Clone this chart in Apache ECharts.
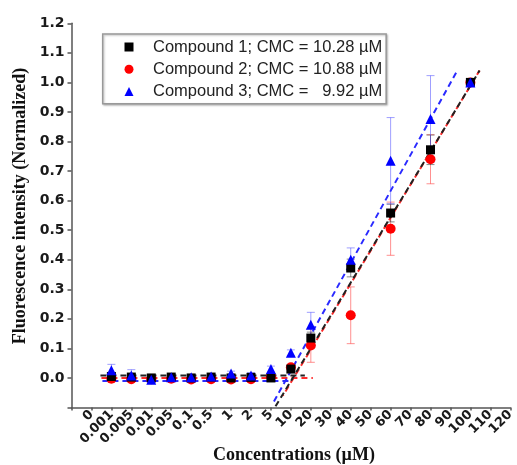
<!DOCTYPE html>
<html>
<head>
<meta charset="utf-8">
<script src="https://cdn.jsdelivr.net/npm/echarts@6/dist/echarts.min.js"></script>
<style>
html,body{margin:0;padding:0;background:#fff;}
#chart{width:517px;height:465px;}
</style>
</head>
<body>
<div id="chart"></div>
<script>
// Tick labels of the x axis (placed at positions 1..22)
const xTickLabels = ['0','0.001','0.005','0.01','0.05','0.1','0.5','1','2','5','10','20','30','40','50','60','70','80','90','100','110','120'];
// Measured concentrations (µM)
const concentrations = ['0.001','0.005','0.01','0.05','0.1','0.5','1','2','5','10','20','40','60','80','100'];
// Series values (normalized fluorescence)
const compound1 = [0.005,0.003,0.0,0.003,0.0,0.003,0.0,0.002,0.0,0.03,0.135,0.372,0.558,0.772,1.0];
const compound2 = [-0.003,-0.004,-0.004,-0.003,-0.005,-0.004,-0.005,-0.004,0.005,0.036,0.11,0.212,0.505,0.74,1.0];
const compound3 = [0.026,0.008,-0.006,0.002,0.002,0.005,0.015,0.008,0.03,0.085,0.18,0.40,0.735,0.876,1.0];
// Error values (±)
const err1 = [0.008,0.005,0.005,0.005,0.005,0.005,0.005,0.005,0.005,0.01,0.02,0.03,0.03,0.05,0];
const err2 = [0.01,0.008,0.008,0.008,0.008,0.008,0.008,0.008,0.01,0.01,0.057,0.096,0.09,0.083,0];
const err3 = [0.02,0.02,0.01,0.008,0.008,0.008,0.008,0.01,0.01,0.01,0.042,0.04,0.146,0.147,0];
// Linear fit segments [axis position, value]
const fit1Flat = [[1.45,0.008],[11.7,0.008]];
const fit1Rise = [[10.23,-0.096],[20.46,1.04]];
const fit2Flat = [[1.5,0.0],[12.1,0.0]];
const fit2Rise = [[10.6,-0.06],[20.46,1.04]];
const fit3Flat = [[1.55,-0.01],[10.9,-0.01]];
const fit3Rise = [[10.15,-0.08],[19.34,1.04]];
const seriesNames = ['Compound 1; CMC = 10.28 µM','Compound 2; CMC = 10.88 µM','Compound 3; CMC =   9.92 µM'];

function pos(c){ return xTickLabels.indexOf(c) + 1; }
function pts(vals){ return concentrations.map((c,i)=>[pos(c), vals[i]]); }
function errs(vals, e){ return concentrations.map((c,i)=>[pos(c), vals[i]-e[i], vals[i]+e[i]]); }

function errSeries(data, color){
  return {
    type:'custom', data:data, z:1, silent:true,
    renderItem:function(params, api){
      const x = api.value(0);
      const lo = api.coord([x, api.value(1)]);
      const hi = api.coord([x, api.value(2)]);
      const w = 4;
      const st = {stroke:color, lineWidth:1};
      return {type:'group', children:[
        {type:'line', shape:{x1:lo[0],y1:lo[1],x2:hi[0],y2:hi[1]}, style:st},
        {type:'line', shape:{x1:lo[0]-w,y1:lo[1],x2:lo[0]+w,y2:lo[1]}, style:st},
        {type:'line', shape:{x1:hi[0]-w,y1:hi[1],x2:hi[0]+w,y2:hi[1]}, style:st}
      ]};
    }
  };
}
function fitSeries(data, color, offset){
  return {type:'line', data:data, symbol:'none', silent:true, z:2,
    lineStyle:{color:color, width:2, type:[6,4], dashOffset:offset||0}};
}

const chart = echarts.init(document.getElementById('chart'), null, {renderer:'canvas'});
chart.setOption({
  animation:false,
  backgroundColor:'#fff',
  grid:{left:71.5, right:4.5, top:23.3, bottom:57.5, containLabel:false},
  xAxis:{
    type:'value', min:0, max:22, interval:1,
    axisLine:{onZero:false, lineStyle:{color:'#555', width:1.5}},
    axisTick:{show:true, length:3, lineStyle:{color:'#555', width:1.5}},
    splitLine:{show:false},
    axisLabel:{
      rotate:45, margin:5, color:'#1a1a1a', fontSize:13, fontWeight:'bold', fontFamily:'DejaVu Sans',
      formatter:function(v){ const i = Math.round(v); return i>=1 ? (xTickLabels[i-1]||'') : ''; }
    }
  },
  yAxis:{
    type:'value', min:-0.1, max:1.2, interval:0.1,
    axisLine:{show:true, onZero:false, lineStyle:{color:'#555', width:1.5}},
    axisTick:{show:true, length:4, lineStyle:{color:'#555', width:1.5}},
    splitLine:{show:false},
    axisLabel:{
      margin:7, color:'#1a1a1a', fontSize:14, fontWeight:'bold', fontFamily:'DejaVu Sans',
      formatter:function(v){ return v < -0.05 ? '' : v.toFixed(1); }
    }
  },
  legend:{
    data:seriesNames,
    orient:'vertical', left:102.7, top:34,
    padding:[4.5,4,3.8,21.8],
    itemWidth:9, itemHeight:9, itemGap:5.2,
    borderColor:'#999', borderWidth:1.5, backgroundColor:'#fff',
    shadowColor:'rgba(0,0,0,0.25)', shadowBlur:2, shadowOffsetX:1, shadowOffsetY:1,
    textStyle:{fontFamily:'Liberation Sans', fontSize:16.5, color:'#222', padding:[0,0,0,14.5]}
  },
  graphic:[
    {type:'text', x:20.5, y:206, rotation:Math.PI/2,
      style:{x:0, y:0, text:'Fluorescence intensity (Normalized)', textAlign:'center', textVerticalAlign:'middle',
      font:'bold 18px "Liberation Serif"', fill:'#111'}},
    {type:'text', x:294, y:455,
      style:{x:0, y:0, text:'Concentrations (µM)', textAlign:'center', textVerticalAlign:'middle',
      font:'bold 18px "Liberation Serif"', fill:'#111'}}
  ],
  series:[
    errSeries(errs(compound2, err2), 'rgba(255,70,70,0.6)'),
    errSeries(errs(compound1, err1), 'rgba(60,60,60,0.6)'),
    errSeries(errs(compound3, err3), 'rgba(80,80,255,0.55)'),
    fitSeries(fit2Flat, '#ff2a2a', 0),
    fitSeries(fit2Rise, '#ff2a2a', 5),
    fitSeries(fit1Flat, '#222', 0),
    fitSeries(fit1Rise, '#222', 0),
    fitSeries(fit3Flat, '#2a2aff', 0),
    fitSeries(fit3Rise, '#2a2aff', 0),
    {name:seriesNames[1], type:'scatter', data:pts(compound2), symbol:'circle', symbolSize:10, itemStyle:{color:'#ff0000', opacity:1}, z:3},
    {name:seriesNames[0], type:'scatter', data:pts(compound1), symbol:'rect', symbolSize:9, itemStyle:{color:'#000', opacity:1}, z:4},
    {name:seriesNames[2], type:'scatter', data:pts(compound3), symbol:'triangle', symbolSize:10, itemStyle:{color:'#0000ff', opacity:1}, z:5}
  ]
});
</script>
</body>
</html>
